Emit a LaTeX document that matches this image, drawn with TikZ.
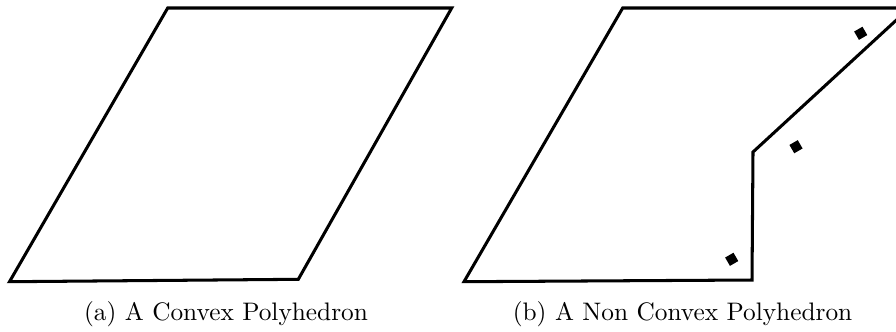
\documentclass[tikz,border=0pt]{standalone}
\begin{document}
\begin{tikzpicture}[x=0.395pt,y=-0.395pt,
  poly/.style={draw=black,line width=1.2pt},
  pt/.style={fill=black,draw=none,minimum width=3.8pt,minimum height=3.8pt,inner sep=0pt,outer sep=0pt,rotate=30,rectangle},
  captext/.style={anchor=base,inner sep=0pt,font=\normalsize}]
\useasboundingbox (0,0) rectangle (896,331);
\clip (0,0) rectangle (896,331);
% left convex shape
\coordinate (a1) at (167.7,8);
\coordinate (a2) at (451.7,8);
\coordinate (a3) at (298.3,279.3);
\coordinate (a4) at (9.5,281.7);
\draw[poly] (a1) -- (a2) -- (a3) -- (a4) -- cycle;
% right non-convex shape
\coordinate (b1) at (622.7,8);
\coordinate (b2) at (909.5,8);
\coordinate (b3) at (753,152);
\coordinate (b4) at (752,280);
\coordinate (b5) at (464,281.7);
\draw[poly] (b1) -- (b2) -- (b3) -- (b4) -- (b5) -- cycle;
% points
\node[pt] (p1) at (860.7,33.3) {};
\node[pt] (p2) at (796,146.7) {};
\node[pt] (p3) at (731.7,259.3) {};
% captions
\node[captext] (ca) at (226,320) {(a) A Convex Polyhedron};
\node[captext] (cb) at (682.5,320) {(b) A Non Convex Polyhedron};
\end{tikzpicture}
\end{document}
